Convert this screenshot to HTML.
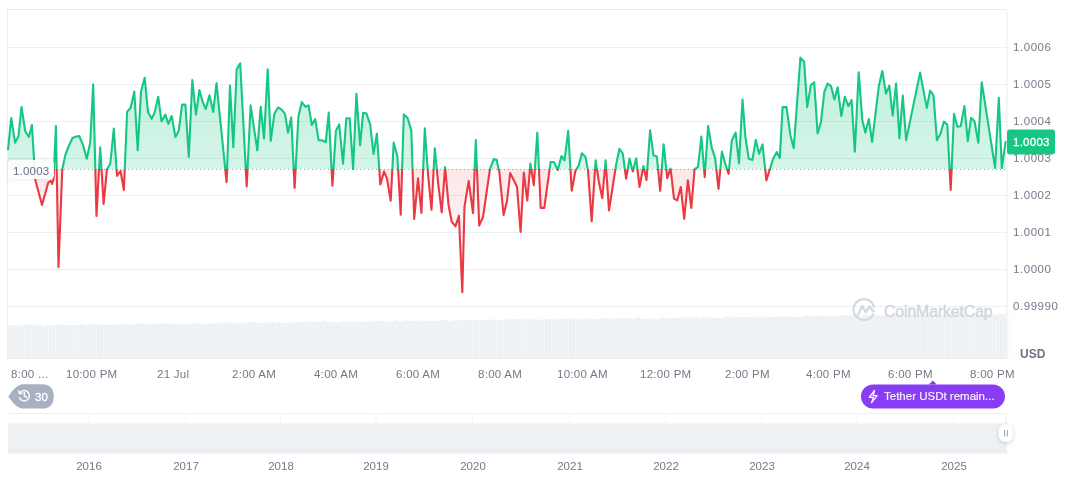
<!DOCTYPE html>
<html><head><meta charset="utf-8">
<style>
html,body{margin:0;padding:0;background:#fff;width:1072px;height:477px;overflow:hidden;}
body{font-family:"Liberation Sans",sans-serif;position:relative;}
svg{position:absolute;left:0;top:0;}
.t{position:absolute;will-change:transform;font-size:11.5px;color:#737987;white-space:nowrap;line-height:12px;}
.yl{left:1012.5px;letter-spacing:0.55px;}
.xl{top:368px;letter-spacing:0.28px;}
.yr{top:460px;width:40px;text-align:center;}
</style></head><body>
<svg width="1072" height="477">
<defs>
<linearGradient id="gg" x1="0" y1="55" x2="0" y2="169" gradientUnits="userSpaceOnUse"><stop offset="0" stop-color="#16c784" stop-opacity="0.28"/><stop offset="1" stop-color="#16c784" stop-opacity="0.18"/></linearGradient>
<linearGradient id="rg" x1="0" y1="169" x2="0" y2="295" gradientUnits="userSpaceOnUse"><stop offset="0" stop-color="#ea3943" stop-opacity="0.12"/><stop offset="1" stop-color="#ea3943" stop-opacity="0.02"/></linearGradient>
<clipPath id="up"><rect x="0" y="0" width="1072" height="169"/></clipPath>
<clipPath id="dn"><rect x="0" y="169" width="1072" height="300"/></clipPath>
<filter id="sh" x="-30%" y="-50%" width="160%" height="200%"><feDropShadow dx="0" dy="0.5" stdDeviation="1.5" flood-color="#58667e" flood-opacity="0.15"/></filter>
<filter id="sh2" x="-60%" y="-60%" width="220%" height="220%"><feDropShadow dx="0" dy="1.5" stdDeviation="2" flood-color="#58667e" flood-opacity="0.3"/></filter>
</defs>
<rect x="7.5" y="9.5" width="999.5" height="349" fill="none" stroke="#e9ebee" stroke-width="1"/>
<g stroke="#eceef1" stroke-width="1"><line x1="8" y1="47.5" x2="1007" y2="47.5"/><line x1="8" y1="84.5" x2="1007" y2="84.5"/><line x1="8" y1="121.5" x2="1007" y2="121.5"/><line x1="8" y1="158.5" x2="1007" y2="158.5"/><line x1="8" y1="195.5" x2="1007" y2="195.5"/><line x1="8" y1="232.5" x2="1007" y2="232.5"/><line x1="8" y1="269.5" x2="1007" y2="269.5"/><line x1="8" y1="306.5" x2="1007" y2="306.5"/></g>
<path d="M8,358.5 L8.0,325.1 L11.4,325.1 L11.4,325.5 L14.8,325.5 L14.8,325.2 L18.3,325.2 L18.3,325.5 L21.7,325.5 L21.7,325.5 L25.1,325.5 L25.1,324.6 L28.5,324.6 L28.5,324.5 L31.9,324.5 L31.9,325.8 L35.4,325.8 L35.4,324.8 L38.8,324.8 L38.8,324.7 L42.2,324.7 L42.2,325.9 L45.6,325.9 L45.6,325.0 L49.0,325.0 L49.0,325.6 L52.5,325.6 L52.5,325.0 L55.9,325.0 L55.9,325.2 L59.3,325.2 L59.3,324.4 L62.7,324.4 L62.7,325.1 L66.1,325.1 L66.1,325.4 L69.6,325.4 L69.6,324.8 L73.0,324.8 L73.0,325.1 L76.4,325.1 L76.4,325.0 L79.8,325.0 L79.8,324.0 L83.2,324.0 L83.2,325.0 L86.7,325.0 L86.7,324.7 L90.1,324.7 L90.1,324.2 L93.5,324.2 L93.5,323.8 L96.9,323.8 L96.9,325.1 L100.3,325.1 L100.3,324.4 L103.8,324.4 L103.8,324.7 L107.2,324.7 L107.2,325.0 L110.6,325.0 L110.6,324.7 L114.0,324.7 L114.0,325.0 L117.4,325.0 L117.4,324.1 L120.9,324.1 L120.9,324.7 L124.3,324.7 L124.3,324.1 L127.7,324.1 L127.7,324.8 L131.1,324.8 L131.1,324.7 L134.5,324.7 L134.5,323.4 L138.0,323.4 L138.0,323.4 L141.4,323.4 L141.4,323.5 L144.8,323.5 L144.8,324.7 L148.2,324.7 L148.2,323.8 L151.6,323.8 L151.6,324.0 L155.1,324.0 L155.1,323.5 L158.5,323.5 L158.5,323.8 L161.9,323.8 L161.9,323.5 L165.3,323.5 L165.3,323.5 L168.7,323.5 L168.7,323.8 L172.2,323.8 L172.2,323.7 L175.6,323.7 L175.6,324.2 L179.0,324.2 L179.0,323.8 L182.4,323.8 L182.4,324.2 L185.8,324.2 L185.8,324.0 L189.3,324.0 L189.3,324.2 L192.7,324.2 L192.7,323.6 L196.1,323.6 L196.1,322.8 L199.5,322.8 L199.5,323.9 L202.9,323.9 L202.9,324.0 L206.4,324.0 L206.4,323.9 L209.8,323.9 L209.8,323.3 L213.2,323.3 L213.2,323.5 L216.6,323.5 L216.6,322.6 L220.0,322.6 L220.0,323.6 L223.5,323.6 L223.5,323.1 L226.9,323.1 L226.9,322.6 L230.3,322.6 L230.3,322.2 L233.7,322.2 L233.7,323.5 L237.1,323.5 L237.1,323.6 L240.6,323.6 L240.6,322.2 L244.0,322.2 L244.0,323.3 L247.4,323.3 L247.4,322.6 L250.8,322.6 L250.8,322.1 L254.2,322.1 L254.2,322.3 L257.7,322.3 L257.7,323.1 L261.1,323.1 L261.1,323.2 L264.5,323.2 L264.5,321.8 L267.9,321.8 L267.9,322.7 L271.3,322.7 L271.3,321.7 L274.8,321.7 L274.8,322.8 L278.2,322.8 L278.2,322.1 L281.6,322.1 L281.6,323.0 L285.0,323.0 L285.0,323.1 L288.4,323.1 L288.4,322.3 L291.9,322.3 L291.9,323.0 L295.3,323.0 L295.3,321.9 L298.7,321.9 L298.7,321.5 L302.1,321.5 L302.1,322.3 L305.5,322.3 L305.5,321.3 L309.0,321.3 L309.0,321.6 L312.4,321.6 L312.4,321.8 L315.8,321.8 L315.8,322.1 L319.2,322.1 L319.2,321.4 L322.6,321.4 L322.6,321.1 L326.1,321.1 L326.1,322.4 L329.5,322.4 L329.5,321.5 L332.9,321.5 L332.9,322.5 L336.3,322.5 L336.3,322.4 L339.7,322.4 L339.7,321.5 L343.2,321.5 L343.2,321.6 L346.6,321.6 L346.6,321.6 L350.0,321.6 L350.0,321.8 L353.4,321.8 L353.4,321.7 L356.8,321.7 L356.8,321.6 L360.3,321.6 L360.3,321.6 L363.7,321.6 L363.7,322.1 L367.1,322.1 L367.1,321.4 L370.5,321.4 L370.5,321.2 L373.9,321.2 L373.9,321.6 L377.4,321.6 L377.4,320.8 L380.8,320.8 L380.8,320.9 L384.2,320.9 L384.2,321.9 L387.6,321.9 L387.6,321.2 L391.0,321.2 L391.0,321.2 L394.5,321.2 L394.5,320.3 L397.9,320.3 L397.9,320.9 L401.3,320.9 L401.3,321.1 L404.7,321.1 L404.7,320.2 L408.1,320.2 L408.1,321.1 L411.6,321.1 L411.6,321.1 L415.0,321.1 L415.0,320.1 L418.4,320.1 L418.4,321.0 L421.8,321.0 L421.8,320.7 L425.2,320.7 L425.2,321.0 L428.7,321.0 L428.7,320.4 L432.1,320.4 L432.1,320.9 L435.5,320.9 L435.5,321.0 L438.9,321.0 L438.9,319.8 L442.3,319.8 L442.3,319.8 L445.8,319.8 L445.8,320.7 L449.2,320.7 L449.2,321.2 L452.6,321.2 L452.6,320.0 L456.0,320.0 L456.0,320.3 L459.4,320.3 L459.4,320.5 L462.9,320.5 L462.9,320.0 L466.3,320.0 L466.3,320.0 L469.7,320.0 L469.7,319.9 L473.1,319.9 L473.1,319.9 L476.5,319.9 L476.5,320.3 L480.0,320.3 L480.0,319.7 L483.4,319.7 L483.4,319.8 L486.8,319.8 L486.8,320.4 L490.2,320.4 L490.2,319.2 L493.6,319.2 L493.6,320.0 L497.1,320.0 L497.1,320.2 L500.5,320.2 L500.5,319.5 L503.9,319.5 L503.9,319.3 L507.3,319.3 L507.3,320.2 L510.7,320.2 L510.7,319.3 L514.2,319.3 L514.2,319.2 L517.6,319.2 L517.6,319.5 L521.0,319.5 L521.0,319.9 L524.4,319.9 L524.4,318.9 L527.8,318.9 L527.8,319.2 L531.3,319.2 L531.3,319.2 L534.7,319.2 L534.7,320.0 L538.1,320.0 L538.1,319.3 L541.5,319.3 L541.5,319.9 L544.9,319.9 L544.9,318.8 L548.4,318.8 L548.4,319.0 L551.8,319.0 L551.8,319.5 L555.2,319.5 L555.2,319.8 L558.6,319.8 L558.6,319.1 L562.0,319.1 L562.0,318.7 L565.5,318.7 L565.5,318.5 L568.9,318.5 L568.9,319.1 L572.3,319.1 L572.3,318.5 L575.7,318.5 L575.7,319.5 L579.1,319.5 L579.1,319.5 L582.6,319.5 L582.6,318.4 L586.0,318.4 L586.0,318.5 L589.4,318.5 L589.4,319.3 L592.8,319.3 L592.8,319.0 L596.2,319.0 L596.2,319.2 L599.7,319.2 L599.7,318.4 L603.1,318.4 L603.1,318.1 L606.5,318.1 L606.5,318.3 L609.9,318.3 L609.9,319.0 L613.3,319.0 L613.3,318.2 L616.8,318.2 L616.8,318.2 L620.2,318.2 L620.2,318.3 L623.6,318.3 L623.6,318.3 L627.0,318.3 L627.0,318.2 L630.4,318.2 L630.4,319.0 L633.9,319.0 L633.9,317.7 L637.3,317.7 L637.3,317.5 L640.7,317.5 L640.7,318.9 L644.1,318.9 L644.1,318.8 L647.5,318.8 L647.5,318.9 L651.0,318.9 L651.0,318.0 L654.4,318.0 L654.4,318.8 L657.8,318.8 L657.8,318.7 L661.2,318.7 L661.2,317.5 L664.6,317.5 L664.6,318.3 L668.1,318.3 L668.1,318.4 L671.5,318.4 L671.5,318.1 L674.9,318.1 L674.9,317.9 L678.3,317.9 L678.3,317.4 L681.7,317.4 L681.7,317.5 L685.2,317.5 L685.2,317.3 L688.6,317.3 L688.6,317.0 L692.0,317.0 L692.0,317.8 L695.4,317.8 L695.4,317.2 L698.8,317.2 L698.8,318.0 L702.3,318.0 L702.3,316.8 L705.7,316.8 L705.7,318.1 L709.1,318.1 L709.1,317.7 L712.5,317.7 L712.5,318.1 L715.9,318.1 L715.9,318.0 L719.4,318.0 L719.4,318.0 L722.8,318.0 L722.8,317.4 L726.2,317.4 L726.2,316.5 L729.6,316.5 L729.6,317.6 L733.0,317.6 L733.0,316.6 L736.5,316.6 L736.5,316.8 L739.9,316.8 L739.9,317.3 L743.3,317.3 L743.3,317.1 L746.7,317.1 L746.7,316.9 L750.1,316.9 L750.1,317.7 L753.6,317.7 L753.6,317.1 L757.0,317.1 L757.0,316.6 L760.4,316.6 L760.4,316.4 L763.8,316.4 L763.8,317.4 L767.2,317.4 L767.2,316.7 L770.7,316.7 L770.7,317.2 L774.1,317.2 L774.1,316.4 L777.5,316.4 L777.5,316.2 L780.9,316.2 L780.9,316.7 L784.3,316.7 L784.3,317.1 L787.8,317.1 L787.8,316.0 L791.2,316.0 L791.2,317.0 L794.6,317.0 L794.6,317.1 L798.0,317.1 L798.0,316.9 L801.4,316.9 L801.4,316.9 L804.9,316.9 L804.9,315.5 L808.3,315.5 L808.3,316.5 L811.7,316.5 L811.7,316.8 L815.1,316.8 L815.1,315.5 L818.5,315.5 L818.5,315.8 L822.0,315.8 L822.0,315.8 L825.4,315.8 L825.4,316.1 L828.8,316.1 L828.8,315.9 L832.2,315.9 L832.2,316.0 L835.6,316.0 L835.6,316.4 L839.1,316.4 L839.1,315.1 L842.5,315.1 L842.5,315.2 L845.9,315.2 L845.9,315.3 L849.3,315.3 L849.3,315.2 L852.7,315.2 L852.7,315.1 L856.2,315.1 L856.2,316.5 L859.6,316.5 L859.6,316.3 L863.0,316.3 L863.0,315.0 L866.4,315.0 L866.4,315.6 L869.8,315.6 L869.8,315.3 L873.3,315.3 L873.3,315.2 L876.7,315.2 L876.7,315.3 L880.1,315.3 L880.1,315.7 L883.5,315.7 L883.5,315.6 L886.9,315.6 L886.9,315.2 L890.4,315.2 L890.4,314.8 L893.8,314.8 L893.8,315.0 L897.2,315.0 L897.2,314.7 L900.6,314.7 L900.6,315.3 L904.0,315.3 L904.0,315.5 L907.5,315.5 L907.5,315.0 L910.9,315.0 L910.9,314.4 L914.3,314.4 L914.3,314.6 L917.7,314.6 L917.7,314.8 L921.1,314.8 L921.1,315.2 L924.6,315.2 L924.6,315.4 L928.0,315.4 L928.0,314.7 L931.4,314.7 L931.4,315.4 L934.8,315.4 L934.8,315.0 L938.2,315.0 L938.2,314.7 L941.7,314.7 L941.7,314.5 L945.1,314.5 L945.1,314.7 L948.5,314.7 L948.5,315.0 L951.9,315.0 L951.9,314.5 L955.3,314.5 L955.3,314.9 L958.8,314.9 L958.8,314.5 L962.2,314.5 L962.2,314.1 L965.6,314.1 L965.6,314.5 L969.0,314.5 L969.0,314.7 L972.4,314.7 L972.4,313.7 L975.9,313.7 L975.9,314.2 L979.3,314.2 L979.3,314.2 L982.7,314.2 L982.7,314.9 L986.1,314.9 L986.1,314.9 L989.5,314.9 L989.5,314.0 L993.0,314.0 L993.0,314.8 L996.4,314.8 L996.4,314.6 L999.8,314.6 L999.8,313.7 L1003.2,313.7 L1003.2,314.0 L1006.6,314.0 L1006.6,313.4 L1007.0,313.4 L1007,358.5 Z" fill="#eef1f4"/>
<path d="M11.0,325.1V358.5M14.4,325.5V358.5M17.8,325.2V358.5M21.3,325.5V358.5M24.7,325.5V358.5M28.1,324.6V358.5M31.5,324.5V358.5M34.9,325.8V358.5M38.4,324.8V358.5M41.8,324.7V358.5M45.2,325.9V358.5M48.6,325.0V358.5M52.0,325.6V358.5M55.5,325.0V358.5M58.9,325.2V358.5M62.3,324.4V358.5M65.7,325.1V358.5M69.1,325.4V358.5M72.6,324.8V358.5M76.0,325.1V358.5M79.4,325.0V358.5M82.8,324.0V358.5M86.2,325.0V358.5M89.7,324.7V358.5M93.1,324.2V358.5M96.5,323.8V358.5M99.9,325.1V358.5M103.3,324.4V358.5M106.8,324.7V358.5M110.2,325.0V358.5M113.6,324.7V358.5M117.0,325.0V358.5M120.4,324.1V358.5M123.9,324.7V358.5M127.3,324.1V358.5M130.7,324.8V358.5M134.1,324.7V358.5M137.5,323.4V358.5M141.0,323.4V358.5M144.4,323.5V358.5M147.8,324.7V358.5M151.2,323.8V358.5M154.6,324.0V358.5M158.1,323.5V358.5M161.5,323.8V358.5M164.9,323.5V358.5M168.3,323.5V358.5M171.7,323.8V358.5M175.2,323.7V358.5M178.6,324.2V358.5M182.0,323.8V358.5M185.4,324.2V358.5M188.8,324.0V358.5M192.3,324.2V358.5M195.7,323.6V358.5M199.1,322.8V358.5M202.5,323.9V358.5M205.9,324.0V358.5M209.4,323.9V358.5M212.8,323.3V358.5M216.2,323.5V358.5M219.6,322.6V358.5M223.0,323.6V358.5M226.5,323.1V358.5M229.9,322.6V358.5M233.3,322.2V358.5M236.7,323.5V358.5M240.1,323.6V358.5M243.6,322.2V358.5M247.0,323.3V358.5M250.4,322.6V358.5M253.8,322.1V358.5M257.2,322.3V358.5M260.7,323.1V358.5M264.1,323.2V358.5M267.5,321.8V358.5M270.9,322.7V358.5M274.3,321.7V358.5M277.8,322.8V358.5M281.2,322.1V358.5M284.6,323.0V358.5M288.0,323.1V358.5M291.4,322.3V358.5M294.9,323.0V358.5M298.3,321.9V358.5M301.7,321.5V358.5M305.1,322.3V358.5M308.5,321.3V358.5M312.0,321.6V358.5M315.4,321.8V358.5M318.8,322.1V358.5M322.2,321.4V358.5M325.6,321.1V358.5M329.1,322.4V358.5M332.5,321.5V358.5M335.9,322.5V358.5M339.3,322.4V358.5M342.7,321.5V358.5M346.2,321.6V358.5M349.6,321.6V358.5M353.0,321.8V358.5M356.4,321.7V358.5M359.8,321.6V358.5M363.3,321.6V358.5M366.7,322.1V358.5M370.1,321.4V358.5M373.5,321.2V358.5M376.9,321.6V358.5M380.4,320.8V358.5M383.8,320.9V358.5M387.2,321.9V358.5M390.6,321.2V358.5M394.0,321.2V358.5M397.5,320.3V358.5M400.9,320.9V358.5M404.3,321.1V358.5M407.7,320.2V358.5M411.1,321.1V358.5M414.6,321.1V358.5M418.0,320.1V358.5M421.4,321.0V358.5M424.8,320.7V358.5M428.2,321.0V358.5M431.7,320.4V358.5M435.1,320.9V358.5M438.5,321.0V358.5M441.9,319.8V358.5M445.3,319.8V358.5M448.8,320.7V358.5M452.2,321.2V358.5M455.6,320.0V358.5M459.0,320.3V358.5M462.4,320.5V358.5M465.9,320.0V358.5M469.3,320.0V358.5M472.7,319.9V358.5M476.1,319.9V358.5M479.5,320.3V358.5M483.0,319.7V358.5M486.4,319.8V358.5M489.8,320.4V358.5M493.2,319.2V358.5M496.6,320.0V358.5M500.1,320.2V358.5M503.5,319.5V358.5M506.9,319.3V358.5M510.3,320.2V358.5M513.7,319.3V358.5M517.2,319.2V358.5M520.6,319.5V358.5M524.0,319.9V358.5M527.4,318.9V358.5M530.8,319.2V358.5M534.3,319.2V358.5M537.7,320.0V358.5M541.1,319.3V358.5M544.5,319.9V358.5M547.9,318.8V358.5M551.4,319.0V358.5M554.8,319.5V358.5M558.2,319.8V358.5M561.6,319.1V358.5M565.0,318.7V358.5M568.5,318.5V358.5M571.9,319.1V358.5M575.3,318.5V358.5M578.7,319.5V358.5M582.1,319.5V358.5M585.6,318.4V358.5M589.0,318.5V358.5M592.4,319.3V358.5M595.8,319.0V358.5M599.2,319.2V358.5M602.7,318.4V358.5M606.1,318.1V358.5M609.5,318.3V358.5M612.9,319.0V358.5M616.3,318.2V358.5M619.8,318.2V358.5M623.2,318.3V358.5M626.6,318.3V358.5M630.0,318.2V358.5M633.4,319.0V358.5M636.9,317.7V358.5M640.3,317.5V358.5M643.7,318.9V358.5M647.1,318.8V358.5M650.5,318.9V358.5M654.0,318.0V358.5M657.4,318.8V358.5M660.8,318.7V358.5M664.2,317.5V358.5M667.6,318.3V358.5M671.1,318.4V358.5M674.5,318.1V358.5M677.9,317.9V358.5M681.3,317.4V358.5M684.7,317.5V358.5M688.2,317.3V358.5M691.6,317.0V358.5M695.0,317.8V358.5M698.4,317.2V358.5M701.8,318.0V358.5M705.3,316.8V358.5M708.7,318.1V358.5M712.1,317.7V358.5M715.5,318.1V358.5M718.9,318.0V358.5M722.4,318.0V358.5M725.8,317.4V358.5M729.2,316.5V358.5M732.6,317.6V358.5M736.0,316.6V358.5M739.5,316.8V358.5M742.9,317.3V358.5M746.3,317.1V358.5M749.7,316.9V358.5M753.1,317.7V358.5M756.6,317.1V358.5M760.0,316.6V358.5M763.4,316.4V358.5M766.8,317.4V358.5M770.2,316.7V358.5M773.7,317.2V358.5M777.1,316.4V358.5M780.5,316.2V358.5M783.9,316.7V358.5M787.3,317.1V358.5M790.8,316.0V358.5M794.2,317.0V358.5M797.6,317.1V358.5M801.0,316.9V358.5M804.4,316.9V358.5M807.9,315.5V358.5M811.3,316.5V358.5M814.7,316.8V358.5M818.1,315.5V358.5M821.5,315.8V358.5M825.0,315.8V358.5M828.4,316.1V358.5M831.8,315.9V358.5M835.2,316.0V358.5M838.6,316.4V358.5M842.1,315.1V358.5M845.5,315.2V358.5M848.9,315.3V358.5M852.3,315.2V358.5M855.7,315.1V358.5M859.2,316.5V358.5M862.6,316.3V358.5M866.0,315.0V358.5M869.4,315.6V358.5M872.8,315.3V358.5M876.3,315.2V358.5M879.7,315.3V358.5M883.1,315.7V358.5M886.5,315.6V358.5M889.9,315.2V358.5M893.4,314.8V358.5M896.8,315.0V358.5M900.2,314.7V358.5M903.6,315.3V358.5M907.0,315.5V358.5M910.5,315.0V358.5M913.9,314.4V358.5M917.3,314.6V358.5M920.7,314.8V358.5M924.1,315.2V358.5M927.6,315.4V358.5M931.0,314.7V358.5M934.4,315.4V358.5M937.8,315.0V358.5M941.2,314.7V358.5M944.7,314.5V358.5M948.1,314.7V358.5M951.5,315.0V358.5M954.9,314.5V358.5M958.3,314.9V358.5M961.8,314.5V358.5M965.2,314.1V358.5M968.6,314.5V358.5M972.0,314.7V358.5M975.4,313.7V358.5M978.9,314.2V358.5M982.3,314.2V358.5M985.7,314.9V358.5M989.1,314.9V358.5M992.5,314.0V358.5M996.0,314.8V358.5M999.4,314.6V358.5M1002.8,313.7V358.5M1006.2,314.0V358.5M1009.6,313.4V358.5" stroke="#f4f6f8" stroke-width="0.8"/>
<path d="M8.0,150.0 L11.2,118.0 L15.1,142.7 L18.5,136.0 L21.5,107.0 L25.2,131.0 L28.9,137.0 L31.9,125.0 L35.3,180.0 L42.0,205.0 L48.3,182.5 L50.8,180.8 L52.0,184.0 L53.5,180.0 L55.9,126.0 L58.5,267.0 L62.3,169.0 L65.5,154.5 L68.8,146.0 L72.5,138.0 L76.4,136.5 L79.2,136.0 L82.8,144.4 L86.8,158.7 L90.2,142.7 L93.2,84.4 L96.5,216.0 L100.2,147.3 L103.6,204.0 L107.0,169.0 L110.3,163.7 L113.8,128.5 L117.0,176.0 L120.5,171.0 L123.9,190.0 L127.1,111.8 L130.6,108.0 L134.3,91.6 L137.7,150.3 L141.0,91.6 L144.7,77.7 L148.0,112.0 L151.6,118.8 L154.5,113.0 L158.2,96.7 L161.5,121.4 L165.4,114.6 L168.4,123.9 L171.7,116.0 L175.4,137.0 L178.7,131.0 L182.1,104.6 L185.4,104.6 L188.8,157.0 L192.3,80.0 L196.0,114.6 L199.4,90.0 L202.7,102.0 L205.8,109.1 L209.5,95.3 L213.2,112.0 L216.5,83.1 L226.6,182.2 L230.0,85.6 L233.3,147.3 L236.7,69.3 L240.2,63.4 L246.7,186.4 L250.6,105.4 L257.3,150.3 L260.7,106.7 L264.0,138.5 L267.7,69.3 L270.7,141.0 L274.4,113.8 L278.0,107.4 L281.7,109.6 L285.0,113.8 L288.0,132.7 L291.2,117.4 L294.6,188.0 L298.4,116.8 L301.8,102.0 L305.2,106.7 L308.5,105.4 L311.9,125.0 L315.2,119.0 L318.6,140.2 L322.0,140.2 L325.8,142.2 L328.7,112.5 L332.4,185.6 L335.9,131.0 L339.2,124.3 L343.0,163.7 L346.3,118.3 L349.7,118.3 L353.1,168.9 L356.4,93.8 L360.1,145.3 L363.1,112.7 L366.5,113.6 L370.2,124.5 L373.5,154.0 L376.9,133.7 L380.3,184.5 L384.0,171.6 L387.0,178.6 L390.7,200.8 L393.7,142.5 L397.4,156.8 L400.7,214.7 L403.8,114.4 L407.5,117.8 L411.3,130.4 L414.2,219.0 L418.0,178.3 L421.4,213.0 L424.8,128.4 L428.1,175.0 L431.5,209.7 L434.8,148.4 L438.2,183.7 L441.7,212.3 L445.1,167.0 L448.5,204.7 L451.7,221.7 L455.5,226.4 L458.9,215.7 L462.3,292.2 L464.5,206.6 L468.7,181.0 L473.0,213.2 L475.8,140.0 L479.2,225.5 L483.0,217.0 L490.0,168.9 L493.8,159.0 L496.6,159.8 L499.4,172.6 L503.6,215.0 L507.0,201.0 L510.2,173.0 L517.0,186.8 L520.6,232.0 L523.8,172.6 L527.3,200.5 L530.4,163.5 L533.8,185.1 L537.3,132.6 L540.7,207.9 L544.3,207.9 L550.6,162.0 L553.9,162.0 L557.8,170.0 L561.5,156.1 L564.5,160.3 L568.2,130.9 L571.7,190.8 L575.4,171.0 L578.8,165.3 L581.8,153.2 L585.5,157.0 L588.0,170.4 L591.7,221.3 L595.6,160.3 L598.9,182.0 L602.3,198.2 L605.6,160.3 L609.0,210.4 L616.0,165.3 L619.4,148.9 L622.8,153.6 L626.1,178.7 L629.5,158.6 L632.8,171.5 L636.2,158.3 L639.5,187.0 L643.4,166.0 L646.5,180.0 L650.1,130.4 L653.5,155.3 L656.8,156.6 L660.2,190.8 L663.6,144.2 L667.2,178.2 L670.6,168.5 L674.0,198.6 L677.3,200.3 L680.8,187.0 L684.2,218.8 L687.9,180.2 L691.3,207.9 L694.6,169.0 L698.0,167.1 L701.4,136.5 L704.7,177.2 L708.1,126.0 L711.8,147.8 L715.1,157.9 L718.5,188.9 L721.9,151.6 L725.2,163.7 L728.6,173.8 L731.9,140.2 L735.6,132.7 L739.0,163.4 L742.5,99.5 L745.4,136.9 L748.7,158.7 L752.4,160.0 L755.8,139.9 L759.1,154.0 L762.5,144.4 L766.4,180.5 L773.1,158.7 L776.8,152.0 L779.8,157.9 L782.6,107.1 L786.5,107.1 L790.4,135.2 L793.7,148.3 L800.4,57.6 L804.1,61.8 L807.2,107.1 L810.8,85.3 L814.2,82.2 L817.6,133.5 L820.9,122.4 L824.3,92.0 L827.6,83.6 L831.0,86.1 L834.4,99.5 L837.7,87.3 L841.3,116.0 L844.8,96.7 L848.3,106.2 L851.6,100.0 L854.8,151.6 L858.7,72.2 L862.3,120.0 L865.4,132.7 L868.8,119.0 L872.1,141.9 L878.8,86.1 L882.3,71.0 L886.0,93.6 L889.3,85.6 L892.7,115.6 L896.1,83.5 L899.4,138.5 L902.8,95.6 L906.1,140.2 L920.1,72.6 L926.8,107.9 L930.1,90.6 L933.5,95.3 L936.9,140.2 L940.6,133.5 L943.9,121.6 L947.3,124.5 L950.7,190.0 L954.0,113.7 L957.3,126.6 L960.7,126.2 L964.4,106.1 L967.8,141.1 L971.1,117.8 L974.5,121.3 L978.3,142.7 L981.7,82.2 L995.1,168.0 L998.8,97.8 L1001.8,168.0 L1005.7,141.1 L1005.7,169 L8.0,169 Z" fill="url(#gg)" clip-path="url(#up)"/>
<path d="M8.0,150.0 L11.2,118.0 L15.1,142.7 L18.5,136.0 L21.5,107.0 L25.2,131.0 L28.9,137.0 L31.9,125.0 L35.3,180.0 L42.0,205.0 L48.3,182.5 L50.8,180.8 L52.0,184.0 L53.5,180.0 L55.9,126.0 L58.5,267.0 L62.3,169.0 L65.5,154.5 L68.8,146.0 L72.5,138.0 L76.4,136.5 L79.2,136.0 L82.8,144.4 L86.8,158.7 L90.2,142.7 L93.2,84.4 L96.5,216.0 L100.2,147.3 L103.6,204.0 L107.0,169.0 L110.3,163.7 L113.8,128.5 L117.0,176.0 L120.5,171.0 L123.9,190.0 L127.1,111.8 L130.6,108.0 L134.3,91.6 L137.7,150.3 L141.0,91.6 L144.7,77.7 L148.0,112.0 L151.6,118.8 L154.5,113.0 L158.2,96.7 L161.5,121.4 L165.4,114.6 L168.4,123.9 L171.7,116.0 L175.4,137.0 L178.7,131.0 L182.1,104.6 L185.4,104.6 L188.8,157.0 L192.3,80.0 L196.0,114.6 L199.4,90.0 L202.7,102.0 L205.8,109.1 L209.5,95.3 L213.2,112.0 L216.5,83.1 L226.6,182.2 L230.0,85.6 L233.3,147.3 L236.7,69.3 L240.2,63.4 L246.7,186.4 L250.6,105.4 L257.3,150.3 L260.7,106.7 L264.0,138.5 L267.7,69.3 L270.7,141.0 L274.4,113.8 L278.0,107.4 L281.7,109.6 L285.0,113.8 L288.0,132.7 L291.2,117.4 L294.6,188.0 L298.4,116.8 L301.8,102.0 L305.2,106.7 L308.5,105.4 L311.9,125.0 L315.2,119.0 L318.6,140.2 L322.0,140.2 L325.8,142.2 L328.7,112.5 L332.4,185.6 L335.9,131.0 L339.2,124.3 L343.0,163.7 L346.3,118.3 L349.7,118.3 L353.1,168.9 L356.4,93.8 L360.1,145.3 L363.1,112.7 L366.5,113.6 L370.2,124.5 L373.5,154.0 L376.9,133.7 L380.3,184.5 L384.0,171.6 L387.0,178.6 L390.7,200.8 L393.7,142.5 L397.4,156.8 L400.7,214.7 L403.8,114.4 L407.5,117.8 L411.3,130.4 L414.2,219.0 L418.0,178.3 L421.4,213.0 L424.8,128.4 L428.1,175.0 L431.5,209.7 L434.8,148.4 L438.2,183.7 L441.7,212.3 L445.1,167.0 L448.5,204.7 L451.7,221.7 L455.5,226.4 L458.9,215.7 L462.3,292.2 L464.5,206.6 L468.7,181.0 L473.0,213.2 L475.8,140.0 L479.2,225.5 L483.0,217.0 L490.0,168.9 L493.8,159.0 L496.6,159.8 L499.4,172.6 L503.6,215.0 L507.0,201.0 L510.2,173.0 L517.0,186.8 L520.6,232.0 L523.8,172.6 L527.3,200.5 L530.4,163.5 L533.8,185.1 L537.3,132.6 L540.7,207.9 L544.3,207.9 L550.6,162.0 L553.9,162.0 L557.8,170.0 L561.5,156.1 L564.5,160.3 L568.2,130.9 L571.7,190.8 L575.4,171.0 L578.8,165.3 L581.8,153.2 L585.5,157.0 L588.0,170.4 L591.7,221.3 L595.6,160.3 L598.9,182.0 L602.3,198.2 L605.6,160.3 L609.0,210.4 L616.0,165.3 L619.4,148.9 L622.8,153.6 L626.1,178.7 L629.5,158.6 L632.8,171.5 L636.2,158.3 L639.5,187.0 L643.4,166.0 L646.5,180.0 L650.1,130.4 L653.5,155.3 L656.8,156.6 L660.2,190.8 L663.6,144.2 L667.2,178.2 L670.6,168.5 L674.0,198.6 L677.3,200.3 L680.8,187.0 L684.2,218.8 L687.9,180.2 L691.3,207.9 L694.6,169.0 L698.0,167.1 L701.4,136.5 L704.7,177.2 L708.1,126.0 L711.8,147.8 L715.1,157.9 L718.5,188.9 L721.9,151.6 L725.2,163.7 L728.6,173.8 L731.9,140.2 L735.6,132.7 L739.0,163.4 L742.5,99.5 L745.4,136.9 L748.7,158.7 L752.4,160.0 L755.8,139.9 L759.1,154.0 L762.5,144.4 L766.4,180.5 L773.1,158.7 L776.8,152.0 L779.8,157.9 L782.6,107.1 L786.5,107.1 L790.4,135.2 L793.7,148.3 L800.4,57.6 L804.1,61.8 L807.2,107.1 L810.8,85.3 L814.2,82.2 L817.6,133.5 L820.9,122.4 L824.3,92.0 L827.6,83.6 L831.0,86.1 L834.4,99.5 L837.7,87.3 L841.3,116.0 L844.8,96.7 L848.3,106.2 L851.6,100.0 L854.8,151.6 L858.7,72.2 L862.3,120.0 L865.4,132.7 L868.8,119.0 L872.1,141.9 L878.8,86.1 L882.3,71.0 L886.0,93.6 L889.3,85.6 L892.7,115.6 L896.1,83.5 L899.4,138.5 L902.8,95.6 L906.1,140.2 L920.1,72.6 L926.8,107.9 L930.1,90.6 L933.5,95.3 L936.9,140.2 L940.6,133.5 L943.9,121.6 L947.3,124.5 L950.7,190.0 L954.0,113.7 L957.3,126.6 L960.7,126.2 L964.4,106.1 L967.8,141.1 L971.1,117.8 L974.5,121.3 L978.3,142.7 L981.7,82.2 L995.1,168.0 L998.8,97.8 L1001.8,168.0 L1005.7,141.1 L1005.7,169 L8.0,169 Z" fill="url(#rg)" clip-path="url(#dn)"/>
<line x1="8" y1="169.5" x2="1007" y2="169.5" stroke="#98a0ad" stroke-width="1" stroke-dasharray="1,3"/>
<path d="M8.0,150.0 L11.2,118.0 L15.1,142.7 L18.5,136.0 L21.5,107.0 L25.2,131.0 L28.9,137.0 L31.9,125.0 L35.3,180.0 L42.0,205.0 L48.3,182.5 L50.8,180.8 L52.0,184.0 L53.5,180.0 L55.9,126.0 L58.5,267.0 L62.3,169.0 L65.5,154.5 L68.8,146.0 L72.5,138.0 L76.4,136.5 L79.2,136.0 L82.8,144.4 L86.8,158.7 L90.2,142.7 L93.2,84.4 L96.5,216.0 L100.2,147.3 L103.6,204.0 L107.0,169.0 L110.3,163.7 L113.8,128.5 L117.0,176.0 L120.5,171.0 L123.9,190.0 L127.1,111.8 L130.6,108.0 L134.3,91.6 L137.7,150.3 L141.0,91.6 L144.7,77.7 L148.0,112.0 L151.6,118.8 L154.5,113.0 L158.2,96.7 L161.5,121.4 L165.4,114.6 L168.4,123.9 L171.7,116.0 L175.4,137.0 L178.7,131.0 L182.1,104.6 L185.4,104.6 L188.8,157.0 L192.3,80.0 L196.0,114.6 L199.4,90.0 L202.7,102.0 L205.8,109.1 L209.5,95.3 L213.2,112.0 L216.5,83.1 L226.6,182.2 L230.0,85.6 L233.3,147.3 L236.7,69.3 L240.2,63.4 L246.7,186.4 L250.6,105.4 L257.3,150.3 L260.7,106.7 L264.0,138.5 L267.7,69.3 L270.7,141.0 L274.4,113.8 L278.0,107.4 L281.7,109.6 L285.0,113.8 L288.0,132.7 L291.2,117.4 L294.6,188.0 L298.4,116.8 L301.8,102.0 L305.2,106.7 L308.5,105.4 L311.9,125.0 L315.2,119.0 L318.6,140.2 L322.0,140.2 L325.8,142.2 L328.7,112.5 L332.4,185.6 L335.9,131.0 L339.2,124.3 L343.0,163.7 L346.3,118.3 L349.7,118.3 L353.1,168.9 L356.4,93.8 L360.1,145.3 L363.1,112.7 L366.5,113.6 L370.2,124.5 L373.5,154.0 L376.9,133.7 L380.3,184.5 L384.0,171.6 L387.0,178.6 L390.7,200.8 L393.7,142.5 L397.4,156.8 L400.7,214.7 L403.8,114.4 L407.5,117.8 L411.3,130.4 L414.2,219.0 L418.0,178.3 L421.4,213.0 L424.8,128.4 L428.1,175.0 L431.5,209.7 L434.8,148.4 L438.2,183.7 L441.7,212.3 L445.1,167.0 L448.5,204.7 L451.7,221.7 L455.5,226.4 L458.9,215.7 L462.3,292.2 L464.5,206.6 L468.7,181.0 L473.0,213.2 L475.8,140.0 L479.2,225.5 L483.0,217.0 L490.0,168.9 L493.8,159.0 L496.6,159.8 L499.4,172.6 L503.6,215.0 L507.0,201.0 L510.2,173.0 L517.0,186.8 L520.6,232.0 L523.8,172.6 L527.3,200.5 L530.4,163.5 L533.8,185.1 L537.3,132.6 L540.7,207.9 L544.3,207.9 L550.6,162.0 L553.9,162.0 L557.8,170.0 L561.5,156.1 L564.5,160.3 L568.2,130.9 L571.7,190.8 L575.4,171.0 L578.8,165.3 L581.8,153.2 L585.5,157.0 L588.0,170.4 L591.7,221.3 L595.6,160.3 L598.9,182.0 L602.3,198.2 L605.6,160.3 L609.0,210.4 L616.0,165.3 L619.4,148.9 L622.8,153.6 L626.1,178.7 L629.5,158.6 L632.8,171.5 L636.2,158.3 L639.5,187.0 L643.4,166.0 L646.5,180.0 L650.1,130.4 L653.5,155.3 L656.8,156.6 L660.2,190.8 L663.6,144.2 L667.2,178.2 L670.6,168.5 L674.0,198.6 L677.3,200.3 L680.8,187.0 L684.2,218.8 L687.9,180.2 L691.3,207.9 L694.6,169.0 L698.0,167.1 L701.4,136.5 L704.7,177.2 L708.1,126.0 L711.8,147.8 L715.1,157.9 L718.5,188.9 L721.9,151.6 L725.2,163.7 L728.6,173.8 L731.9,140.2 L735.6,132.7 L739.0,163.4 L742.5,99.5 L745.4,136.9 L748.7,158.7 L752.4,160.0 L755.8,139.9 L759.1,154.0 L762.5,144.4 L766.4,180.5 L773.1,158.7 L776.8,152.0 L779.8,157.9 L782.6,107.1 L786.5,107.1 L790.4,135.2 L793.7,148.3 L800.4,57.6 L804.1,61.8 L807.2,107.1 L810.8,85.3 L814.2,82.2 L817.6,133.5 L820.9,122.4 L824.3,92.0 L827.6,83.6 L831.0,86.1 L834.4,99.5 L837.7,87.3 L841.3,116.0 L844.8,96.7 L848.3,106.2 L851.6,100.0 L854.8,151.6 L858.7,72.2 L862.3,120.0 L865.4,132.7 L868.8,119.0 L872.1,141.9 L878.8,86.1 L882.3,71.0 L886.0,93.6 L889.3,85.6 L892.7,115.6 L896.1,83.5 L899.4,138.5 L902.8,95.6 L906.1,140.2 L920.1,72.6 L926.8,107.9 L930.1,90.6 L933.5,95.3 L936.9,140.2 L940.6,133.5 L943.9,121.6 L947.3,124.5 L950.7,190.0 L954.0,113.7 L957.3,126.6 L960.7,126.2 L964.4,106.1 L967.8,141.1 L971.1,117.8 L974.5,121.3 L978.3,142.7 L981.7,82.2 L995.1,168.0 L998.8,97.8 L1001.8,168.0 L1005.7,141.1" fill="none" stroke="#16c784" stroke-width="2.1" stroke-linejoin="round" clip-path="url(#up)"/>
<path d="M8.0,150.0 L11.2,118.0 L15.1,142.7 L18.5,136.0 L21.5,107.0 L25.2,131.0 L28.9,137.0 L31.9,125.0 L35.3,180.0 L42.0,205.0 L48.3,182.5 L50.8,180.8 L52.0,184.0 L53.5,180.0 L55.9,126.0 L58.5,267.0 L62.3,169.0 L65.5,154.5 L68.8,146.0 L72.5,138.0 L76.4,136.5 L79.2,136.0 L82.8,144.4 L86.8,158.7 L90.2,142.7 L93.2,84.4 L96.5,216.0 L100.2,147.3 L103.6,204.0 L107.0,169.0 L110.3,163.7 L113.8,128.5 L117.0,176.0 L120.5,171.0 L123.9,190.0 L127.1,111.8 L130.6,108.0 L134.3,91.6 L137.7,150.3 L141.0,91.6 L144.7,77.7 L148.0,112.0 L151.6,118.8 L154.5,113.0 L158.2,96.7 L161.5,121.4 L165.4,114.6 L168.4,123.9 L171.7,116.0 L175.4,137.0 L178.7,131.0 L182.1,104.6 L185.4,104.6 L188.8,157.0 L192.3,80.0 L196.0,114.6 L199.4,90.0 L202.7,102.0 L205.8,109.1 L209.5,95.3 L213.2,112.0 L216.5,83.1 L226.6,182.2 L230.0,85.6 L233.3,147.3 L236.7,69.3 L240.2,63.4 L246.7,186.4 L250.6,105.4 L257.3,150.3 L260.7,106.7 L264.0,138.5 L267.7,69.3 L270.7,141.0 L274.4,113.8 L278.0,107.4 L281.7,109.6 L285.0,113.8 L288.0,132.7 L291.2,117.4 L294.6,188.0 L298.4,116.8 L301.8,102.0 L305.2,106.7 L308.5,105.4 L311.9,125.0 L315.2,119.0 L318.6,140.2 L322.0,140.2 L325.8,142.2 L328.7,112.5 L332.4,185.6 L335.9,131.0 L339.2,124.3 L343.0,163.7 L346.3,118.3 L349.7,118.3 L353.1,168.9 L356.4,93.8 L360.1,145.3 L363.1,112.7 L366.5,113.6 L370.2,124.5 L373.5,154.0 L376.9,133.7 L380.3,184.5 L384.0,171.6 L387.0,178.6 L390.7,200.8 L393.7,142.5 L397.4,156.8 L400.7,214.7 L403.8,114.4 L407.5,117.8 L411.3,130.4 L414.2,219.0 L418.0,178.3 L421.4,213.0 L424.8,128.4 L428.1,175.0 L431.5,209.7 L434.8,148.4 L438.2,183.7 L441.7,212.3 L445.1,167.0 L448.5,204.7 L451.7,221.7 L455.5,226.4 L458.9,215.7 L462.3,292.2 L464.5,206.6 L468.7,181.0 L473.0,213.2 L475.8,140.0 L479.2,225.5 L483.0,217.0 L490.0,168.9 L493.8,159.0 L496.6,159.8 L499.4,172.6 L503.6,215.0 L507.0,201.0 L510.2,173.0 L517.0,186.8 L520.6,232.0 L523.8,172.6 L527.3,200.5 L530.4,163.5 L533.8,185.1 L537.3,132.6 L540.7,207.9 L544.3,207.9 L550.6,162.0 L553.9,162.0 L557.8,170.0 L561.5,156.1 L564.5,160.3 L568.2,130.9 L571.7,190.8 L575.4,171.0 L578.8,165.3 L581.8,153.2 L585.5,157.0 L588.0,170.4 L591.7,221.3 L595.6,160.3 L598.9,182.0 L602.3,198.2 L605.6,160.3 L609.0,210.4 L616.0,165.3 L619.4,148.9 L622.8,153.6 L626.1,178.7 L629.5,158.6 L632.8,171.5 L636.2,158.3 L639.5,187.0 L643.4,166.0 L646.5,180.0 L650.1,130.4 L653.5,155.3 L656.8,156.6 L660.2,190.8 L663.6,144.2 L667.2,178.2 L670.6,168.5 L674.0,198.6 L677.3,200.3 L680.8,187.0 L684.2,218.8 L687.9,180.2 L691.3,207.9 L694.6,169.0 L698.0,167.1 L701.4,136.5 L704.7,177.2 L708.1,126.0 L711.8,147.8 L715.1,157.9 L718.5,188.9 L721.9,151.6 L725.2,163.7 L728.6,173.8 L731.9,140.2 L735.6,132.7 L739.0,163.4 L742.5,99.5 L745.4,136.9 L748.7,158.7 L752.4,160.0 L755.8,139.9 L759.1,154.0 L762.5,144.4 L766.4,180.5 L773.1,158.7 L776.8,152.0 L779.8,157.9 L782.6,107.1 L786.5,107.1 L790.4,135.2 L793.7,148.3 L800.4,57.6 L804.1,61.8 L807.2,107.1 L810.8,85.3 L814.2,82.2 L817.6,133.5 L820.9,122.4 L824.3,92.0 L827.6,83.6 L831.0,86.1 L834.4,99.5 L837.7,87.3 L841.3,116.0 L844.8,96.7 L848.3,106.2 L851.6,100.0 L854.8,151.6 L858.7,72.2 L862.3,120.0 L865.4,132.7 L868.8,119.0 L872.1,141.9 L878.8,86.1 L882.3,71.0 L886.0,93.6 L889.3,85.6 L892.7,115.6 L896.1,83.5 L899.4,138.5 L902.8,95.6 L906.1,140.2 L920.1,72.6 L926.8,107.9 L930.1,90.6 L933.5,95.3 L936.9,140.2 L940.6,133.5 L943.9,121.6 L947.3,124.5 L950.7,190.0 L954.0,113.7 L957.3,126.6 L960.7,126.2 L964.4,106.1 L967.8,141.1 L971.1,117.8 L974.5,121.3 L978.3,142.7 L981.7,82.2 L995.1,168.0 L998.8,97.8 L1001.8,168.0 L1005.7,141.1" fill="none" stroke="#ea3943" stroke-width="2.1" stroke-linejoin="round" clip-path="url(#dn)"/>
<!-- left price label -->
<rect x="8" y="160" width="46" height="19" rx="4" fill="#ffffff" fill-opacity="0.92" filter="url(#sh)"/>
<!-- price tag -->
<rect x="1007" y="129.5" width="48" height="25" rx="3" fill="#16c784"/>
<!-- watermark logo -->
<g fill="none" stroke="#d5d9e0" stroke-width="2.3" stroke-linecap="round" stroke-linejoin="round">
<path d="M873.2,314.2 A10.4,10.4 0 1 1 873.9,306.8"/>
<path d="M857.9,315.2 L862.2,305.9 L865.9,312.4 L869.5,306.4 Q871.2,309.5 873.4,311.2"/>
</g>
<!-- navigator -->
<line x1="8" y1="413.5" x2="1007" y2="413.5" stroke="#eef0f2"/>
<g stroke="#f1f3f5" stroke-width="1"><line x1="89.0" y1="414" x2="89.0" y2="424"/><line x1="185.7" y1="414" x2="185.7" y2="424"/><line x1="280.7" y1="414" x2="280.7" y2="424"/><line x1="376.0" y1="414" x2="376.0" y2="424"/><line x1="472.5" y1="414" x2="472.5" y2="424"/><line x1="569.9" y1="414" x2="569.9" y2="424"/><line x1="665.6" y1="414" x2="665.6" y2="424"/><line x1="761.7" y1="414" x2="761.7" y2="424"/><line x1="857.4" y1="414" x2="857.4" y2="424"/><line x1="953.8" y1="414" x2="953.8" y2="424"/></g>
<rect x="8" y="423.5" width="999" height="30" fill="#eef1f4"/><rect x="8" y="448.5" width="999" height="5" fill="#e9edf0" fill-opacity="0.6"/>
<!-- 30 badge -->
<path d="M8.2,396.4 C12,392 15,386 22,384.3 L42,384.3 Q53.7,384.3 53.7,396.4 Q53.7,408.5 42,408.5 L22,408.5 C15,407 12,401 8.2,396.4 Z" fill="#a7b1c2"/>
<g fill="none" stroke="#fff" stroke-width="1.4" stroke-linecap="round" stroke-linejoin="round">
<path d="M19.6,393.2 A5.2,5.2 0 1 1 19.3,397.6"/>
<path d="M18.6,390.8 L19.4,393.6 L22.2,393"/>
<path d="M24.3,392.4 L24.3,395.6 L26.4,397.4"/>
</g>
<!-- purple badge -->
<path d="M928.8,384.5 L932.8,380.5 L936.8,384.5 Z" fill="#883df4"/>
<rect x="861" y="384.5" width="144" height="24" rx="12" fill="#883df4"/>
<path d="M874.5,390.5 L869.3,397.3 L873.3,397.3 L871.6,402.6 L877.2,395.6 L873.2,395.6 Z" fill="none" stroke="#fff" stroke-width="1.3" stroke-linejoin="round"/>
<!-- handle -->
<line x1="1006" y1="414" x2="1006" y2="424" stroke="#e6e8ec" stroke-width="0.8"/><rect x="998.8" y="424" width="14" height="18" rx="6.5" fill="#fff" filter="url(#sh2)"/>
<line x1="1004.6" y1="430" x2="1004.6" y2="436.5" stroke="#8f96a3" stroke-width="0.9"/>
<line x1="1007.4" y1="430" x2="1007.4" y2="436.5" stroke="#8f96a3" stroke-width="0.9"/>
</svg>
<div class="t yl" style="top:41px">1.0006</div><div class="t yl" style="top:78px">1.0005</div><div class="t yl" style="top:115px">1.0004</div><div class="t yl" style="top:152px">1.0003</div><div class="t yl" style="top:189px">1.0002</div><div class="t yl" style="top:226px">1.0001</div><div class="t yl" style="top:263px">1.0000</div><div class="t yl" style="top:300px">0.99990</div>
<div class="t xl" style="left:11px">8:00 ...</div><div class="t xl" style="left:66px">10:00 PM</div><div class="t xl" style="left:157px">21 Jul</div><div class="t xl" style="left:232px">2:00 AM</div><div class="t xl" style="left:314px">4:00 AM</div><div class="t xl" style="left:396px">6:00 AM</div><div class="t xl" style="left:478px">8:00 AM</div><div class="t xl" style="left:557px">10:00 AM</div><div class="t xl" style="left:640px">12:00 PM</div><div class="t xl" style="left:725px">2:00 PM</div><div class="t xl" style="left:806px">4:00 PM</div><div class="t xl" style="left:888px">6:00 PM</div><div class="t xl" style="left:970px">8:00 PM</div>
<div class="t yr" style="left:69.0px">2016</div><div class="t yr" style="left:165.7px">2017</div><div class="t yr" style="left:260.7px">2018</div><div class="t yr" style="left:356.0px">2019</div><div class="t yr" style="left:452.5px">2020</div><div class="t yr" style="left:549.9px">2021</div><div class="t yr" style="left:645.6px">2022</div><div class="t yr" style="left:741.7px">2023</div><div class="t yr" style="left:837.4px">2024</div><div class="t yr" style="left:933.8px">2025</div>
<div class="t" style="left:12.8px;top:165px;color:#666f80;letter-spacing:0.2px;">1.0003</div>
<div class="t" style="left:1013px;top:136px;color:#fff;letter-spacing:0.25px;-webkit-text-stroke:0.3px #fff;">1.0003</div>
<div class="t" style="left:883.5px;top:304px;font-size:16px;letter-spacing:-0.2px;color:#d3d7de;-webkit-text-stroke:0.6px #d3d7de;line-height:16px;">CoinMarketCap</div>
<div class="t" style="left:1019.5px;top:348px;font-size:12px;font-weight:bold;color:#6d7380;">USD</div>
<div class="t" style="left:34.5px;top:390.5px;color:#fff;font-size:11.5px;-webkit-text-stroke:0.35px #fff;">30</div>
<div class="t" style="left:884px;top:390px;color:#f6f0ff;-webkit-text-stroke:0.2px #f6f0ff;font-size:11.5px;">Tether USDt remain...</div>
</body></html>
